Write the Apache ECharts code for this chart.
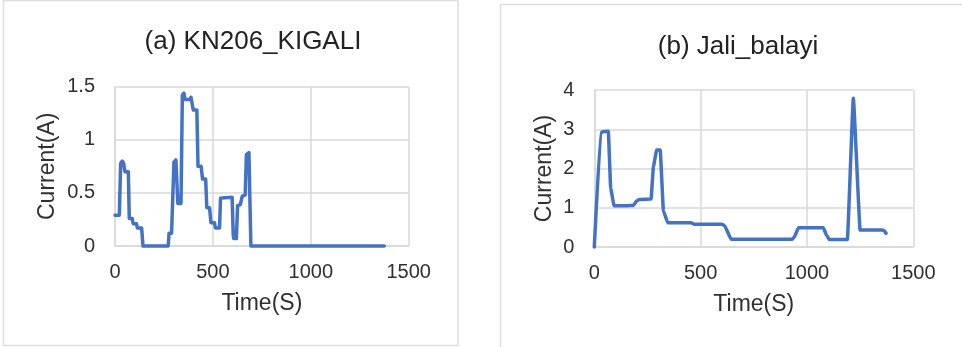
<!DOCTYPE html>
<html>
<head>
<meta charset="utf-8">
<script src="https://cdn.jsdelivr.net/npm/echarts@6/dist/echarts.min.js"></script>
<style>
  html, body { margin: 0; padding: 0; background: #ffffff; }
  #chart { width: 962px; height: 347px; }
</style>
</head>
<body>
<div id="chart"></div>
<script>
// Panel (a): KN206_KIGALI feeder current over time
const timeA = [0, 22, 29, 37, 44, 51, 68, 73, 88, 93, 110, 114, 136, 143, 272, 276, 289, 301, 311, 316, 321, 337, 344, 352, 358, 382, 388, 394, 400, 418, 424, 440, 447, 463, 469, 483, 490, 508, 513, 534, 539, 560, 598, 604, 607, 620, 626, 640, 650, 665, 671, 684, 694, 1375];
const currentA = [0.29, 0.29, 0.78, 0.80, 0.78, 0.70, 0.70, 0.26, 0.26, 0.21, 0.21, 0.17, 0.17, 0, 0, 0.12, 0.12, 0.79, 0.81, 0.81, 0.40, 0.40, 1.42, 1.44, 1.38, 1.38, 1.40, 1.40, 1.28, 1.28, 0.75, 0.75, 0.63, 0.63, 0.36, 0.36, 0.22, 0.22, 0.17, 0.17, 0.45, 0.455, 0.46, 0.10, 0.07, 0.07, 0.38, 0.39, 0.47, 0.48, 0.86, 0.88, 0, 0];

// Panel (b): Jali_balayi feeder current over time
const timeB = [0, 30, 45, 66, 77, 93, 150, 184, 200, 212, 267, 278, 293, 310, 325, 345, 420, 455, 470, 600, 612, 643, 930, 940, 960, 1077, 1092, 1105, 1190, 1218, 1250, 1355, 1362, 1372];
const currentB = [0, 2.92, 2.94, 2.95, 1.5, 1.05, 1.05, 1.06, 1.18, 1.21, 1.22, 2.05, 2.47, 2.47, 0.92, 0.62, 0.62, 0.62, 0.58, 0.58, 0.55, 0.2, 0.2, 0.25, 0.49, 0.49, 0.3, 0.19, 0.19, 3.79, 0.43, 0.43, 0.42, 0.35];

// Tick settings
const xTicks = { min: 0, max: 1500, interval: 500 };
const yTicksA = { min: 0, max: 1.5, interval: 0.5 };
const yTicksB = { min: 0, max: 4, interval: 1 };

const titles = ['(a) KN206_KIGALI', '(b) Jali_balayi'];
const xName = 'Time(S)';
const yName = 'Current(A)';

const FONT = 'Liberation Sans, Arial, Helvetica, sans-serif';
const GRID_COLOR = '#d9d9d9';
const LINE_COLOR = '#4472c4';
const TEXT_COLOR = '#303030';

const zip = (xs, ys) => xs.map((x, i) => [x, ys[i]]);
const plain = v => String(v);

function xAxisFor(gridIndex) {
  return {
    type: 'value', gridIndex,
    min: xTicks.min, max: xTicks.max, interval: xTicks.interval,
    name: xName, nameLocation: 'middle', nameGap: 46,
    nameTextStyle: { fontFamily: FONT, fontSize: 23, color: TEXT_COLOR },
    axisLine: { show: true, lineStyle: { color: GRID_COLOR, width: 1.5 } },
    axisTick: { show: false },
    axisLabel: { fontFamily: FONT, fontSize: 20, color: TEXT_COLOR, margin: 16, formatter: plain },
    splitLine: { show: true, lineStyle: { color: GRID_COLOR, width: 1.5 } }
  };
}

function yAxisFor(gridIndex, ticks, nameGap) {
  return {
    type: 'value', gridIndex,
    min: ticks.min, max: ticks.max, interval: ticks.interval,
    name: yName, nameLocation: 'middle', nameGap,
    nameTextStyle: { fontFamily: FONT, fontSize: 23, color: TEXT_COLOR },
    axisLine: { show: true, lineStyle: { color: GRID_COLOR, width: 1.5 } },
    axisTick: { show: false },
    axisLabel: { fontFamily: FONT, fontSize: 20, color: TEXT_COLOR, margin: 20, formatter: plain },
    splitLine: { show: true, lineStyle: { color: GRID_COLOR, width: 1.5 } }
  };
}

const chart = echarts.init(document.getElementById('chart'), null, { renderer: 'canvas' });

chart.setOption({
  animation: false,
  backgroundColor: '#ffffff',
  graphic: [
    { type: 'rect', shape: { x: 3.5, y: 0.5, width: 454.5, height: 345 },
      style: { fill: 'none', stroke: '#dedede', lineWidth: 1.5 }, z: -1 },
    { type: 'rect', shape: { x: 500.5, y: 4.5, width: 480, height: 360 },
      style: { fill: 'none', stroke: '#dedede', lineWidth: 1.5 }, z: -1 }
  ],
  title: [
    { text: titles[0], left: 248, top: 24, textAlign: 'center',
      textStyle: { fontFamily: FONT, fontSize: 26, fontWeight: 'normal', color: '#222222' } },
    { text: titles[1], left: 733, top: 29, textAlign: 'center',
      textStyle: { fontFamily: FONT, fontSize: 26, fontWeight: 'normal', color: '#222222' } }
  ],
  grid: [
    { left: 115, top: 86.7, width: 293.7, height: 159.3 },
    { left: 594.3, top: 90, width: 319, height: 157 }
  ],
  xAxis: [xAxisFor(0), xAxisFor(1)],
  yAxis: [yAxisFor(0, yTicksA, 56), yAxisFor(1, yTicksB, 38)],
  series: [
    {
      type: 'line', xAxisIndex: 0, yAxisIndex: 0,
      data: zip(timeA, currentA),
      showSymbol: false, clip: false,
      lineStyle: { color: LINE_COLOR, width: 3.5, cap: 'round', join: 'round' }
    },
    {
      type: 'line', xAxisIndex: 1, yAxisIndex: 1,
      data: zip(timeB, currentB),
      showSymbol: false, clip: false,
      smooth: 0.1, smoothMonotone: 'x',
      lineStyle: { color: LINE_COLOR, width: 3.5, cap: 'round', join: 'round' }
    }
  ]
});
</script>
</body>
</html>
